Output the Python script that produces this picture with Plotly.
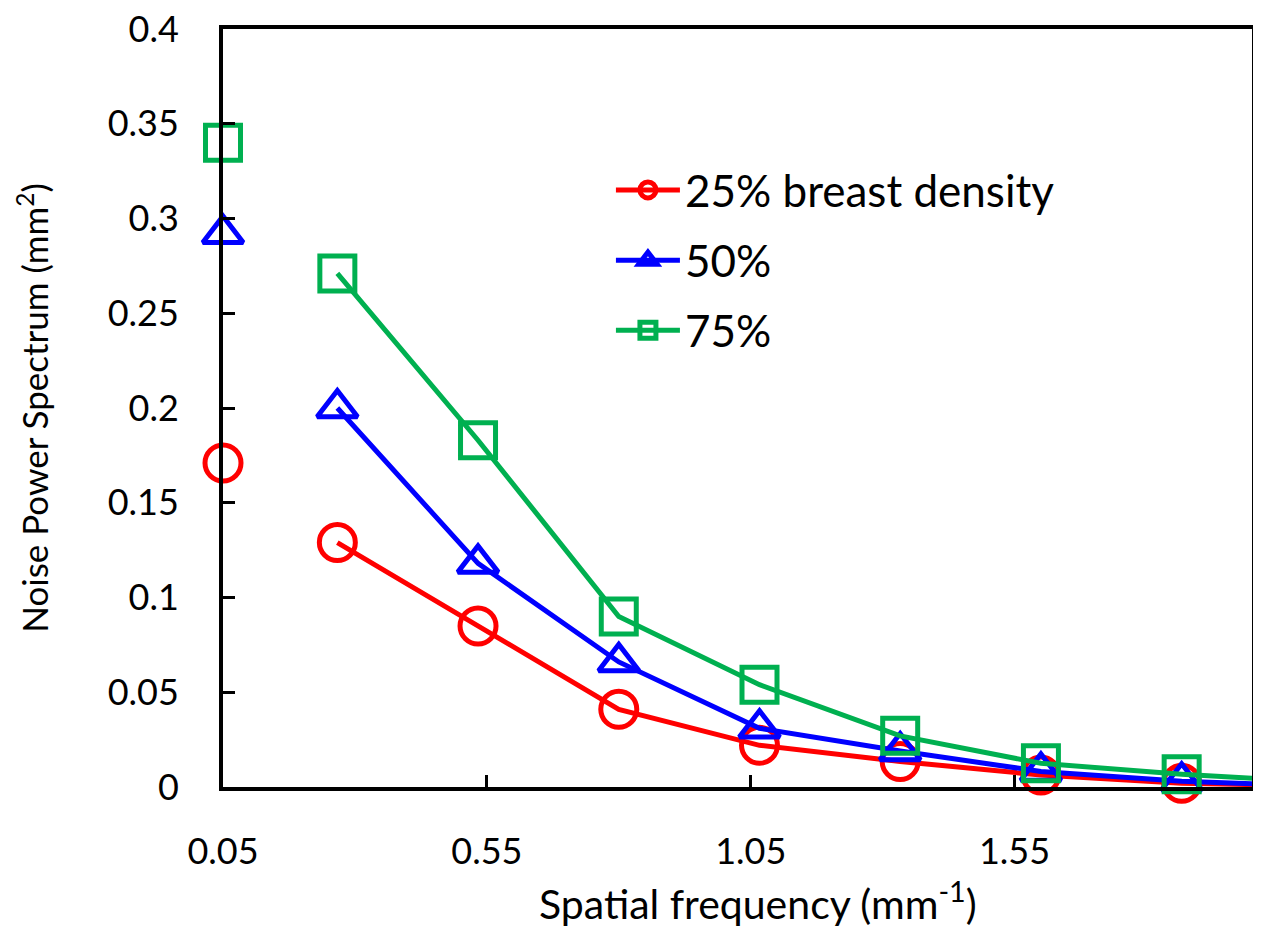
import plotly.graph_objects as go

# ---- data ----
x_first = 0.05
x_rest = [0.2667, 0.5333, 0.8, 1.0667, 1.3333, 1.6, 1.8667, 2.1333]

series_names = ["25% breast density", "50%", "75%"]
first_25 = 0.171
rest_25 = [0.129, 0.085, 0.041, 0.022, 0.0135, 0.0063, 0.002, 0.0005]
first_50 = 0.292
rest_50 = [0.200, 0.118, 0.066, 0.031, 0.019, 0.0082, 0.003, 0.0005]
first_75 = 0.340
rest_75 = [0.271, 0.183, 0.090, 0.054, 0.027, 0.0125, 0.0067, 0.0025]

x_tickvals = [0.05, 0.55, 1.05, 1.55]
x_ticktext = ["0.05", "0.55", "1.05", "1.55"]
y_tickvals = [0, 0.05, 0.1, 0.15, 0.2, 0.25, 0.3, 0.35, 0.4]
y_ticktext = ["0", "0.05", "0.1", "0.15", "0.2", "0.25", "0.3", "0.35", "0.4"]

x_title = "Spatial frequency (mm<sup>-1</sup>)"
y_title = "Noise Power Spectrum (mm<sup>2</sup>)"

colors = ["#FF0000", "#0000FF", "#00B050"]
symbols = ["circle-open", "triangle-up-open", "square-open"]
sizes = [36, 35, 35]

FONT = "Lato"

fig = go.Figure()
for i, (name, f, r) in enumerate(zip(series_names,
                                     [first_25, first_50, first_75],
                                     [rest_25, rest_50, rest_75])):
    xs = [x_first, None] + x_rest
    ys = [f, None] + r
    fig.add_trace(go.Scatter(
        x=xs, y=ys, name=name, mode="lines+markers",
        connectgaps=False, cliponaxis=False,
        legendgroup=name,
        line=dict(color=colors[i], width=5),
        marker=dict(symbol=symbols[i], size=sizes[i], color=colors[i],
                    line=dict(color=colors[i], width=5)),
    ))

# x-axis title placed as an annotation (it sits slightly right of centre)
fig.add_annotation(text=x_title, xref="paper", yref="paper",
                   x=0.52, y=0, xanchor="center", yanchor="middle",
                   yshift=-114, showarrow=False,
                   font=dict(family=FONT, size=41, color="black"))

# the page body adds an 8px offset, so the figure is sized to fill the rest
fig.update_layout(
    width=1253, height=921,
    margin=dict(l=215, r=9, t=21, b=142),
    paper_bgcolor="white", plot_bgcolor="white",
    font=dict(family=FONT, color="black", size=36),
    showlegend=True,
    legend=dict(x=0.377, y=0.834, xanchor="left", yanchor="top",
                bgcolor="rgba(0,0,0,0)", font=dict(family=FONT, size=44),
                tracegroupgap=10, itemwidth=64),
    xaxis=dict(range=[0.05, 2.0], tickvals=x_tickvals, ticktext=x_ticktext,
               automargin=False, ticklabeloverflow="allow",
               showline=True, linecolor="black", linewidth=4, mirror=True,
               ticks="inside", ticklen=12, tickwidth=3, tickcolor="black",
               showgrid=False, zeroline=False, ticklabelstandoff=30,
               tickfont=dict(family=FONT, size=36)),
    yaxis=dict(range=[0, 0.4], tickvals=y_tickvals, ticktext=y_ticktext,
               automargin=False, ticklabeloverflow="allow",
               showline=True, linecolor="black", linewidth=4, mirror=True,
               ticks="inside", ticklen=12, tickwidth=3, tickcolor="black",
               showgrid=False, zeroline=False, ticklabelstandoff=33,
               tickfont=dict(family=FONT, size=36),
               title=dict(text=y_title,
                          font=dict(family=FONT, size=35), standoff=49)),
)

fig.write_html("out.html")
